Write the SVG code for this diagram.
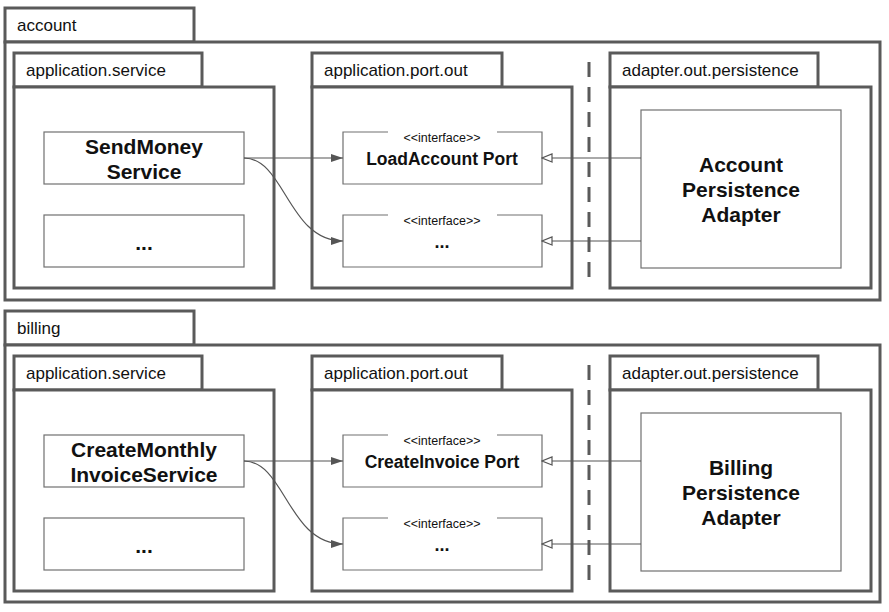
<svg xmlns="http://www.w3.org/2000/svg" width="889" height="612" viewBox="0 0 889 612">
<defs>
<style>
.pkg{fill:#fff;stroke:#5a5a5a;stroke-width:3}
.box{fill:#fff;stroke:#707070;stroke-width:1.2}
.ibox{fill:none;stroke:#707070;stroke-width:1.2}
.tab{font-family:"Liberation Sans",Arial,sans-serif;font-size:17px;fill:#111}
.title{font-family:"Liberation Sans",Arial,sans-serif;font-size:21px;font-weight:bold;fill:#111;text-anchor:middle}
.port{font-family:"Liberation Sans",Arial,sans-serif;font-size:17.5px;font-weight:bold;fill:#111;text-anchor:middle}
.dots{font-family:"Liberation Sans",Arial,sans-serif;font-size:18px;font-weight:bold;fill:#111;text-anchor:middle}
.stereo{font-family:"Liberation Sans",Arial,sans-serif;font-size:12.5px;fill:#111;text-anchor:middle}
.dash{stroke:#5a5a5a;stroke-width:3;stroke-dasharray:15 10;fill:none}
.conn{fill:none;stroke:#555;stroke-width:1.2}
</style>
<marker id="filled" viewBox="0 0 12 8" refX="12" refY="4" markerWidth="12" markerHeight="8" markerUnits="userSpaceOnUse" orient="auto">
<path d="M0,0 L12,4 L0,8 z" fill="#555"/>
</marker>
<marker id="hollow" viewBox="0 0 12 10" refX="11" refY="5" markerWidth="12" markerHeight="10" markerUnits="userSpaceOnUse" orient="auto">
<path d="M1,1 L11,5 L1,9 z" fill="#fff" stroke="#555" stroke-width="1.2"/>
</marker>
</defs>
<rect width="889" height="612" fill="#fff"/>

<!-- ACCOUNT -->
<g id="pkg-account">
<rect class="pkg" x="5" y="8" width="189" height="34"/>
<rect class="pkg" x="5" y="42" width="875" height="258"/>
<text class="tab" x="17" y="31">account</text>
</g>
<g id="pkg-account-service">
<rect class="pkg" x="14" y="53" width="188" height="34"/>
<rect class="pkg" x="14" y="87" width="260" height="201"/>
<text class="tab" x="26" y="76">application.service</text>
</g>
<g id="pkg-account-port">
<rect class="pkg" x="312" y="53" width="190" height="34"/>
<rect class="pkg" x="312" y="87" width="260" height="201"/>
<text class="tab" x="324" y="76">application.port.out</text>
</g>
<g id="pkg-account-adapter">
<rect class="pkg" x="610" y="53" width="208" height="34"/>
<rect class="pkg" x="610" y="87" width="261" height="201"/>
<text class="tab" x="622" y="76">adapter.out.persistence</text>
</g>
<line id="sep-account" class="dash" x1="589" y1="62" x2="589" y2="277"/>

<g id="node-sendmoney">
<rect class="box" x="44" y="132" width="200" height="52"/>
<text class="title" x="144" y="154">SendMoney</text>
<text class="title" x="144" y="179">Service</text>
</g>
<g id="node-account-service-more">
<rect class="box" x="44" y="215" width="200" height="52"/>
<text class="title" x="144" y="250">...</text>
</g>
<g id="node-loadaccount-port">
<rect x="343" y="132" width="199" height="52" fill="#fff"/>
<path class="ibox" d="M388,132 H343 V184 H542 V132 H497"/>
<text class="stereo" x="442" y="142">&lt;&lt;interface&gt;&gt;</text>
<text class="port" x="442" y="165">LoadAccount Port</text>
</g>
<g id="node-account-port-more">
<rect x="343" y="215" width="199" height="52" fill="#fff"/>
<path class="ibox" d="M388,215 H343 V267 H542 V215 H497"/>
<text class="stereo" x="442" y="225">&lt;&lt;interface&gt;&gt;</text>
<text class="dots" x="442" y="248">...</text>
</g>
<g id="node-account-adapter">
<rect class="box" x="641" y="110" width="200" height="158"/>
<text class="title" x="741" y="172">Account</text>
<text class="title" x="741" y="197">Persistence</text>
<text class="title" x="741" y="222">Adapter</text>
</g>

<!-- BILLING -->
<g id="pkg-billing">
<rect class="pkg" x="5" y="311" width="189" height="34"/>
<rect class="pkg" x="5" y="345" width="875" height="257"/>
<text class="tab" x="17" y="334">billing</text>
</g>
<g id="pkg-billing-service">
<rect class="pkg" x="14" y="356" width="188" height="34"/>
<rect class="pkg" x="14" y="390" width="260" height="201"/>
<text class="tab" x="26" y="379">application.service</text>
</g>
<g id="pkg-billing-port">
<rect class="pkg" x="312" y="356" width="190" height="34"/>
<rect class="pkg" x="312" y="390" width="260" height="201"/>
<text class="tab" x="324" y="379">application.port.out</text>
</g>
<g id="pkg-billing-adapter">
<rect class="pkg" x="610" y="356" width="208" height="34"/>
<rect class="pkg" x="610" y="390" width="261" height="201"/>
<text class="tab" x="622" y="379">adapter.out.persistence</text>
</g>
<line id="sep-billing" class="dash" x1="589" y1="365" x2="589" y2="580"/>

<g id="node-createmonthly">
<rect class="box" x="44" y="435" width="200" height="52"/>
<text class="title" x="144" y="457">CreateMonthly</text>
<text class="title" x="144" y="482">InvoiceService</text>
</g>
<g id="node-billing-service-more">
<rect class="box" x="44" y="518" width="200" height="52"/>
<text class="title" x="144" y="553">...</text>
</g>
<g id="node-createinvoice-port">
<rect x="343" y="435" width="199" height="52" fill="#fff"/>
<path class="ibox" d="M388,435 H343 V487 H542 V435 H497"/>
<text class="stereo" x="442" y="445">&lt;&lt;interface&gt;&gt;</text>
<text class="port" x="442" y="468">CreateInvoice Port</text>
</g>
<g id="node-billing-port-more">
<rect x="343" y="518" width="199" height="52" fill="#fff"/>
<path class="ibox" d="M388,518 H343 V570 H542 V518 H497"/>
<text class="stereo" x="442" y="528">&lt;&lt;interface&gt;&gt;</text>
<text class="dots" x="442" y="551">...</text>
</g>
<g id="node-billing-adapter">
<rect class="box" x="641" y="413" width="200" height="158"/>
<text class="title" x="741" y="475">Billing</text>
<text class="title" x="741" y="500">Persistence</text>
<text class="title" x="741" y="525">Adapter</text>
</g>

<g id="connectors">
<line class="conn" x1="244" y1="158" x2="343" y2="158" marker-end="url(#filled)"/>
<path class="conn" d="M244,158 C285,158 288,241 343,241" marker-end="url(#filled)"/>
<line class="conn" x1="641" y1="158" x2="542" y2="158" marker-end="url(#hollow)"/>
<line class="conn" x1="641" y1="241" x2="542" y2="241" marker-end="url(#hollow)"/>
<line class="conn" x1="244" y1="461" x2="343" y2="461" marker-end="url(#filled)"/>
<path class="conn" d="M244,461 C285,461 288,544 343,544" marker-end="url(#filled)"/>
<line class="conn" x1="641" y1="461" x2="542" y2="461" marker-end="url(#hollow)"/>
<line class="conn" x1="641" y1="544" x2="542" y2="544" marker-end="url(#hollow)"/>
</g>
</svg>
